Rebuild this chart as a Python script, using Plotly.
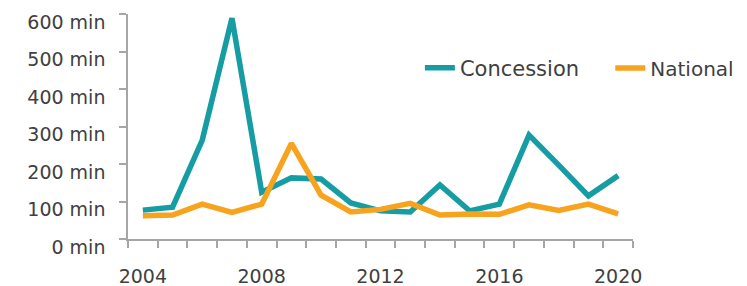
import plotly.graph_objects as go

years = list(range(2004, 2021))
concession = [77, 85, 264, 589, 125, 163, 160, 96, 75, 72, 144, 75, 93, 277, 197, 115, 169]
national = [62, 64, 93, 71, 93, 255, 117, 72, 79, 95, 64, 67, 66, 91, 76, 93, 67]
y_ticks = [0, 100, 200, 300, 400, 500, 600]
y_labels = [f"{v} min" for v in y_ticks]
x_label_years = [2004, 2008, 2012, 2016, 2020]

TEAL = "#169CA3"
ORANGE = "#F8A31E"
TXT = "#404040"
AX = "#A6A6A6"
FONT = "DejaVu Sans"

fig = go.Figure()
fig.add_trace(go.Scatter(x=years, y=concession, mode="lines", name="Concession",
                         line=dict(color=TEAL, width=5.5), legend="legend"))
fig.add_trace(go.Scatter(x=years, y=national, mode="lines", name="National",
                         line=dict(color=ORANGE, width=5.5), legend="legend2"))

leg_common = dict(orientation="h", yanchor="middle", xanchor="left",
                  bgcolor="rgba(0,0,0,0)", borderwidth=0)
fig.update_layout(
    width=739, height=278,
    margin=dict(l=120, r=114, t=6, b=47, autoexpand=False),
    paper_bgcolor="white", plot_bgcolor="white",
    font=dict(family=FONT, size=19, color=TXT),
    showlegend=True,
    legend=dict(x=0.578, y=0.76, font=dict(size=21, color=TXT), **leg_common),
    legend2=dict(x=0.955, y=0.76, font=dict(size=20, color=TXT), **leg_common),
)
fig.update_xaxes(
    range=[2003.5, 2020.5], showgrid=False, zeroline=False, automargin=False,
    showline=True, linecolor=AX, linewidth=1.5,
    tickvals=x_label_years, ticktext=[str(y) for y in x_label_years],
    ticks="", ticklabelstandoff=19, tickfont=dict(size=19, color=TXT),
    minor=dict(tickvals=[y - 0.5 for y in years] + [2020.5], ticks="outside",
               ticklen=7, tickcolor=AX, tickwidth=1.5, showgrid=False),
)
fig.update_yaxes(
    range=[0, 600], showgrid=False, zeroline=False, automargin=False,
    showline=True, linecolor=AX, linewidth=1.5,
    tickvals=y_ticks, ticktext=y_labels, ticks="outside", ticklen=7,
    tickcolor=AX, tickwidth=1.5, tickfont=dict(size=19, color=TXT),
    ticklabelstandoff=10, ticklabelshift=8,
)

fig.write_html("out.html")
